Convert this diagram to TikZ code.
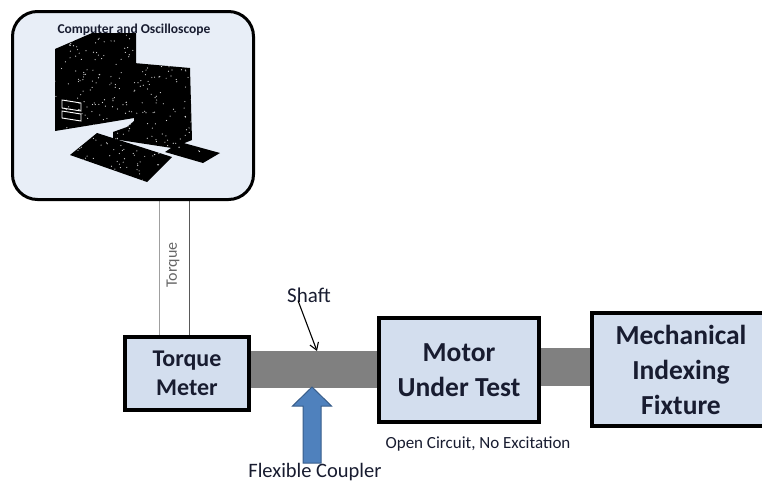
\documentclass[tikz,border=0pt]{standalone}
\usepackage{fontspec}
\setmainfont{Carlito}
\usetikzlibrary{arrows.meta,backgrounds}

\definecolor{pcfill}{RGB}{232,238,247}
\definecolor{blockfill}{RGB}{211,222,238}
\definecolor{shaftgray}{RGB}{128,128,128}
\definecolor{txtnavy}{RGB}{24,28,48}
\definecolor{couplerfill}{RGB}{79,129,189}
\definecolor{couplerline}{RGB}{56,93,138}

\tikzset{
  block/.style={draw=black, line width=4pt, fill=blockfill, align=center,
    text=txtnavy, inner sep=0pt},
  bigbold/.style={font=\bfseries\fontsize{27.5}{35}\selectfont},
  midbold/.style={font=\bfseries\fontsize{24}{29}\selectfont},
  note/.style={text=txtnavy, inner sep=0pt},
  % outlines of the computer clip-art
  towerpath/.style={insert path={(55,49) -- (92,33) -- (136,33) -- (136,64)
    -- (134,118) -- (98,124) -- (55,131) -- cycle}},
  monitorpath/.style={insert path={(134,63) -- (190,68) -- (192,140)
    -- (172,148) -- (113,139) -- (113,132) -- (127,127) -- (134,121) -- cycle}},
  keyboardpath/.style={insert path={(70,155) -- (97,133) -- (172,157)
    -- (147,182) -- cycle}},
  padpath/.style={insert path={(165,152) -- (180,142) -- (220,153)
    -- (203,163) -- cycle}},
}

\begin{document}
\begin{tikzpicture}[x=1pt,y=-1pt]
\useasboundingbox (0,0) rectangle (762,483);
\clip (0,0) rectangle (762,483);

% computer panel
\node[draw=black, line width=3pt, rounded corners=25pt, fill=pcfill,
  minimum width=241pt, minimum height=188pt] (pc) at (133,105.5) {};

% computer clip-art: tower, monitor, keyboard and mouse pad, with a grainy finish
\foreach \shp in {towerpath,monitorpath,keyboardpath,padpath}{
  \fill[black, \shp];
  \begin{scope}
    \clip[\shp];
    \pgfmathsetseed{17}
    \foreach \i in {1,...,420}{
      \fill[white!85!black] (50+rnd*175, 30+rnd*155) circle (0.6pt);
    }
  \end{scope}
}
% drive bays on the tower front
\draw[white, line width=0.9pt] (62,100) -- (81,103) -- (81,111) -- (62,108) -- cycle;
\draw[white, line width=0.9pt] (62,111) -- (81,114) -- (81,121) -- (62,118) -- cycle;

\node[font=\bfseries\fontsize{13.5}{16}\selectfont, text=txtnavy, inner sep=0pt]
  (pctitle) at (134,30) {Computer and Oscilloscope};

% measuring chain
\node[block, midbold, minimum width=124pt, minimum height=73pt]
  (meter) at (187,373.5) {Torque\\Meter};
\node[block, bigbold, minimum width=160pt, minimum height=104pt]
  (motor) at (459,370) {Motor\\Under Test};
\node[block, bigbold, minimum width=178pt, minimum height=113pt]
  (fixture) at (681,369.5) {Mechanical\\Indexing\\Fixture};

\begin{scope}[on background layer]
  % torque signal cable
  \draw[gray!75, line width=1pt] ([xshift=-28pt]meter.north) -- ([xshift=-28pt]meter.north |- pc.south);
  \draw[black!65, line width=1pt] ([xshift=2pt]meter.north) -- ([xshift=2pt]meter.north |- pc.south);
  % shafts
  \fill[shaftgray] (meter.east |- 0,351) rectangle (motor.west |- 0,388);
  \fill[shaftgray] (motor.east |- 0,348) rectangle (fixture.west |- 0,386);
\end{scope}

\node[rotate=90, text=black!60, font=\fontsize{16}{18}\selectfont, inner sep=0pt]
  (torquelbl) at (173,265) {Torque};

% shaft label and pointer
\node[note, font=\fontsize{21}{24}\selectfont] (shaftlbl) at (309,295) {Shaft};
\coordinate (shafttop) at (317,351);
\draw[black, line width=1.1pt, -{Straight Barb[length=7pt,width=9pt]}]
  ([xshift=-11pt,yshift=2pt]shaftlbl.south) -- (shafttop);

% flexible coupler marker
\coordinate (coupler) at (312,387);
\filldraw[fill=couplerfill, draw=couplerline, line width=1pt]
  (coupler) -- ++(19.5,19) -- ++(-10.5,0) -- ++(0,57) -- ++(-18,0)
  -- ++(0,-57) -- ++(-10.5,0) -- cycle;
\node[note, font=\fontsize{20.5}{24}\selectfont] (couplerlbl) at (315,472) {Flexible Coupler};

\node[note, font=\fontsize{17}{20}\selectfont] (motornote) at (478,444) {Open Circuit, No Excitation};
\end{tikzpicture}
\end{document}
